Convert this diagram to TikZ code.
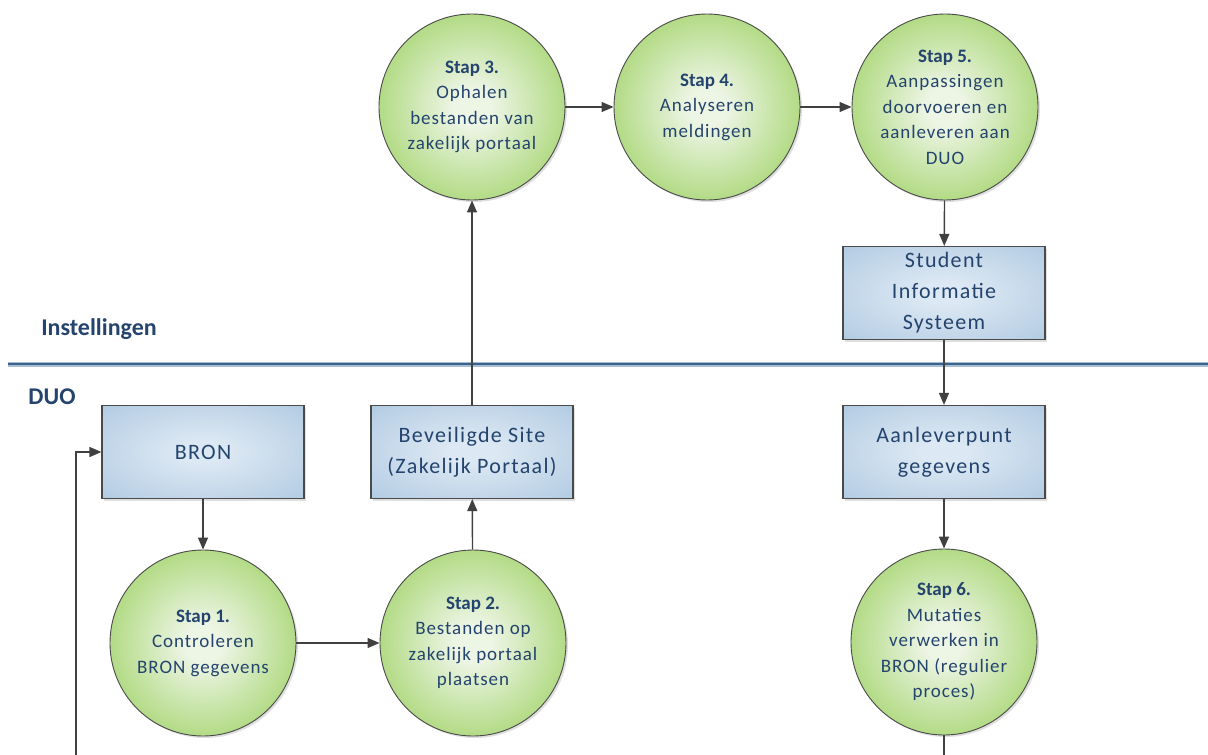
\documentclass[tikz,border=0pt]{standalone}
\usepackage{fontspec}
\setmainfont{Carlito}
\newfontfamily\spacedfont[LetterSpace=5]{Carlito}
\newfontfamily\boxfont[LetterSpace=6]{Carlito}
\newfontfamily\stapfont{Carlito}
\newcommand{\stp}[1]{{\stapfont\bfseries #1}}
\usetikzlibrary{arrows.meta,shadows}
\definecolor{txt}{HTML}{24446E}
\definecolor{gin}{HTML}{EDF5E5}
\definecolor{gout}{HTML}{8DCA48}
\definecolor{bin}{HTML}{DCE8F3}
\definecolor{bout}{HTML}{A6C3DE}
\definecolor{edge}{HTML}{4A4A4A}
\definecolor{arr}{HTML}{404040}
\definecolor{sepdark}{HTML}{3B648D}
\definecolor{seplight}{HTML}{A9BDD2}
\pgfdeclareradialshading{greenrad}{\pgfpoint{0bp}{0bp}}{color(0bp)=(gin); color(5bp)=(gin); color(38bp)=(gout); color(50bp)=(gout)}
\pgfdeclareradialshading{bluerad}{\pgfpoint{0bp}{0bp}}{color(0bp)=(bin); color(6bp)=(bin); color(44bp)=(bout); color(50bp)=(bout)}
\begin{document}
\begin{tikzpicture}[x=1pt,y=-1pt,
  stepc/.style={circle, draw=edge, line width=0.9pt, shading=greenrad, minimum size=186pt, inner sep=0pt, align=center, text=txt, font=\spacedfont\fontsize{19}{25.5}\selectfont, drop shadow={shadow xshift=2pt, shadow yshift=-2pt, opacity=0.25}},
  sysbox/.style={rectangle, draw=edge, line width=1.2pt, shading=bluerad, minimum width=202pt, minimum height=93pt, inner sep=0pt, align=center, text=txt, font=\boxfont\fontsize{22}{31}\selectfont, drop shadow={shadow xshift=2pt, shadow yshift=-2pt, opacity=0.25}},
  conn/.style={draw=arr, line width=1.4pt, -{Triangle[length=12pt,width=10pt]}},
  plain/.style={draw=arr, line width=1.4pt},
  lane/.style={text=txt, font=\fontsize{24}{28}\selectfont\bfseries}]
\useasboundingbox (0,0) rectangle (1208,755);
\fill[white] (0,0) rectangle (1208,755);

% separator
\draw[seplight, line width=5.5pt] (8,364.5) -- (1208,364.5);
\draw[sepdark, line width=2.6pt] (8,364) -- (1208,364);
\node[lane] (inst) at (99,329) {Instellingen};
\node[lane] (duo) at (52,397) {DUO};

% circles
\node[stepc] (s3) at (472,107) {\stp{Stap 3.}\\Ophalen\\bestanden van\\zakelijk portaal};
\node[stepc] (s4) at (707,107) {\stp{Stap 4.}\\Analyseren\\meldingen};
\node[stepc] (s5) at (945,107) {\stp{Stap 5.}\\Aanpassingen\\doorvoeren en\\aanleveren aan\\DUO};
\node[stepc] (s1) at (203,643) {\stp{Stap 1.}\\Controleren\\BRON gegevens};
\node[stepc] (s2) at (473,643) {\stp{Stap 2.}\\Bestanden op\\zakelijk portaal\\plaatsen};
\node[stepc] (s6) at (944,642) {\stp{Stap 6.}\\Mutaties\\verwerken in\\BRON (regulier\\proces)};

% boxes
\node[sysbox] (sis) at (944,293) {Student\\Informatie\\Systeem};
\node[sysbox] (bron) at (203,452) {BRON};
\node[sysbox] (bev) at (472,452) {Beveiligde Site\\(Zakelijk Portaal)};
\node[sysbox] (aan) at (944,452) {Aanleverpunt\\gegevens};

\coordinate (lb) at (76,756);
\coordinate (s6end) at (944,756);

% connectors
\draw[conn] (s3) -- (s4);
\draw[conn] (s4) -- (s5);
\draw[conn] (s5) -- (sis);
\draw[conn] (sis) -- (aan);
\draw[conn] (aan) -- (s6);
\draw[plain] (s6) -- (s6end);
\draw[conn] (bron) -- (s1);
\draw[conn] (s1) -- (s2);
\draw[conn] (s2) -- (bev);
\draw[conn] (bev.north) -- (s3.south);
\draw[conn] (lb) |- (bron.west);
\end{tikzpicture}
\end{document}
